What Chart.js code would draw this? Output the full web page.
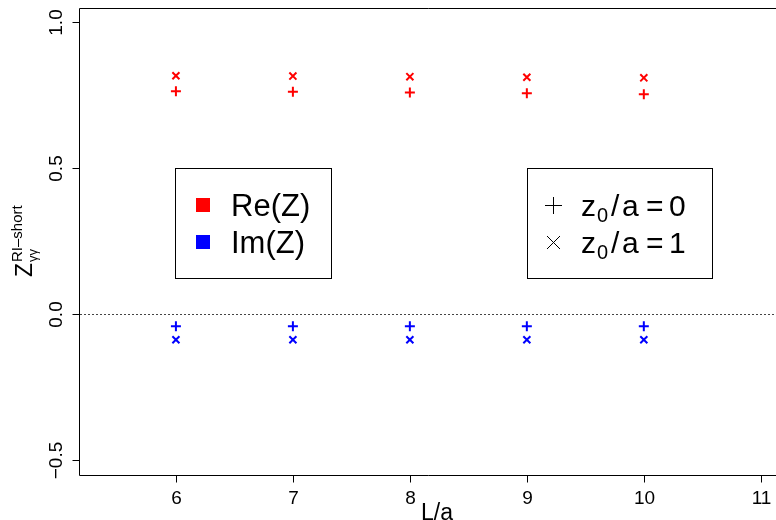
<!DOCTYPE html>
<html>
<head>
<meta charset="utf-8">
<script src="https://cdn.jsdelivr.net/npm/chart.js@4.4.1/dist/chart.umd.min.js"></script>
<style>
  html, body { margin: 0; padding: 0; background: #fff; }
  #wrap { width: 776px; height: 520px; }
</style>
</head>
<body>
<div id="wrap"><canvas id="zChart" width="776" height="520"></canvas></div>
<script>
// L/a values
var sizes = [6, 7, 8, 9, 10];
// Re(Z) and Im(Z) for z0/a = 0 (+) and z0/a = 1 (x)
var reZ0 = [0.763, 0.761, 0.759, 0.756, 0.753];
var reZ1 = [0.816, 0.815, 0.813, 0.811, 0.809];
var imZ0 = [-0.042, -0.042, -0.042, -0.042, -0.042];
var imZ1 = [-0.088, -0.088, -0.088, -0.088, -0.088];

var xTicks = [6, 7, 8, 9, 10, 11];
var yTicks = [-0.5, 0, 0.5, 1.0];
var yTickLabels = ['\u22120.5', '0.0', '0.5', '1.0'];

var FONT = '"Liberation Sans", Arial, Helvetica, sans-serif';

function pts(ys){
    return sizes.map(function(x, i){ return {x: x, y: ys[i]}; });
}
function series(label, ys, color, style){
    return {
        label: label, data: pts(ys), showLine: false,
        pointStyle: style, pointRadius: 5, pointHoverRadius: 5,
        borderColor: color, backgroundColor: color, pointBorderWidth: 2
    };
}

var rPlot = {
    id: 'rPlot',
    beforeDatasetsDraw: function(chart){
        var ctx = chart.ctx, a = chart.chartArea;
        var ys = chart.scales.y;
        ctx.save();
        // dotted zero line
        ctx.strokeStyle = '#444';
        ctx.lineWidth = 1;
        ctx.setLineDash([2, 2]);
        var y0 = Math.round(ys.getPixelForValue(0)) + 0.5;
        ctx.beginPath(); ctx.moveTo(a.left, y0); ctx.lineTo(a.right, y0); ctx.stroke();
        ctx.restore();
    },
    afterDraw: function(chart){
        var ctx = chart.ctx, a = chart.chartArea;
        var xs = chart.scales.x, ys = chart.scales.y;
        ctx.save();
        ctx.strokeStyle = '#000';
        ctx.fillStyle = '#000';
        ctx.lineWidth = 1;
        ctx.setLineDash([]);
        // box (right side falls outside the picture)
        var L = Math.round(a.left) - 0.5, T = Math.round(a.top) + 0.5, B = Math.round(a.bottom) + 0.5;
        ctx.beginPath();
        ctx.moveTo(a.right + 2, T); ctx.lineTo(L, T); ctx.lineTo(L, B); ctx.lineTo(a.right + 2, B);
        ctx.stroke();

        // x axis ticks
        ctx.font = '19px ' + FONT;
        ctx.textAlign = 'center';
        ctx.textBaseline = 'alphabetic';
        xTicks.forEach(function(t){
            var px = Math.round(xs.getPixelForValue(t)) + 0.5;
            ctx.beginPath(); ctx.moveTo(px, B); ctx.lineTo(px, B + 7); ctx.stroke();
            ctx.fillText(String(t), px, 504);
        });
        ctx.font = '23px ' + FONT;
        ctx.fillText('L/a', 437, 520);

        // y axis ticks, labels turned like R
        ctx.font = '19px ' + FONT;
        yTicks.forEach(function(t, i){
            var py = Math.round(ys.getPixelForValue(t)) + 0.5;
            ctx.beginPath(); ctx.moveTo(L, py); ctx.lineTo(L - 7, py); ctx.stroke();
            ctx.save();
            ctx.translate(62, py);
            ctx.rotate(-Math.PI / 2);
            ctx.textAlign = 'center';
            ctx.fillText(yTickLabels[i], 0, 0);
            ctx.restore();
        });

        // y axis title: Z^{RI-short}_{gamma gamma}
        ctx.save();
        ctx.translate(32, 277);
        ctx.rotate(-Math.PI / 2);
        ctx.textAlign = 'left';
        ctx.font = '23px ' + FONT;
        ctx.fillText('Z', 0, 0);
        ctx.font = '15px ' + FONT;
        ctx.fillText('RI\u2013short', 15, -10);
        ctx.font = '13px ' + FONT;
        ctx.fillText('\u03b3\u03b3', 15, 5);
        ctx.restore();

        // legend 1: colours
        ctx.strokeStyle = '#000';
        ctx.strokeRect(175.5, 168.5, 156, 110);
        ctx.fillStyle = '#ff0000';
        ctx.fillRect(196, 198, 14, 14);
        ctx.fillStyle = '#0000ff';
        ctx.fillRect(196, 235, 14, 14);
        ctx.fillStyle = '#000';
        ctx.font = '31px ' + FONT;
        ctx.textAlign = 'left';
        ctx.fillText('Re(Z)', 231, 216);
        ctx.fillText('Im(Z)', 231, 253);

        // legend 2: symbols
        ctx.strokeRect(527.5, 168.5, 185, 110);
        ctx.beginPath();
        ctx.moveTo(545, 205.5); ctx.lineTo(562, 205.5);
        ctx.moveTo(553.5, 197); ctx.lineTo(553.5, 214);
        ctx.moveTo(547, 236); ctx.lineTo(560, 249);
        ctx.moveTo(560, 236); ctx.lineTo(547, 249);
        ctx.stroke();
        [[216, '0'], [253, '1']].forEach(function(row){
            var by = row[0];
            ctx.font = '30px ' + FONT;
            ctx.fillText('z', 581, by);
            ctx.font = '20px ' + FONT;
            ctx.fillText('0', 597, by + 6);
            ctx.font = '30px ' + FONT;
            ctx.fillText('/', 611, by);
            ctx.fillText('a', 622, by);
            ctx.fillText('=', 646, by);
            ctx.fillText(row[1], 669, by);
        });
        ctx.restore();
    }
};

new Chart(document.getElementById('zChart'), {
    type: 'scatter',
    data: {
        datasets: [
            series('Re(Z), z0/a=0', reZ0, '#ff0000', 'cross'),
            series('Re(Z), z0/a=1', reZ1, '#ff0000', 'crossRot'),
            series('Im(Z), z0/a=0', imZ0, '#0000ff', 'cross'),
            series('Im(Z), z0/a=1', imZ1, '#0000ff', 'crossRot')
        ]
    },
    options: {
        responsive: false,
        animation: false,
        devicePixelRatio: 1,
        layout: { autoPadding: false, padding: { left: 80, top: 8, right: 0, bottom: 45 } },
        plugins: { legend: { display: false }, tooltip: { enabled: false } },
        scales: {
            x: { type: 'linear', min: 5.18, max: 11.13, display: false },
            y: { type: 'linear', min: -0.551, max: 1.048, display: false }
        }
    },
    plugins: [rPlot]
});
</script>
</body>
</html>
